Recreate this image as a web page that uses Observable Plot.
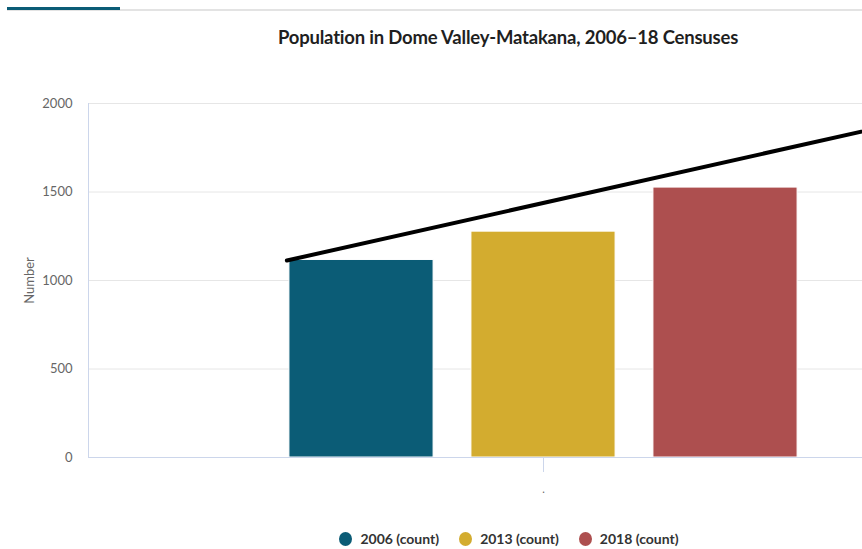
<!DOCTYPE html>
<html>
<head>
<meta charset="utf-8">
<script src="https://cdn.jsdelivr.net/npm/d3@7"></script>
<script src="https://cdn.jsdelivr.net/npm/@observablehq/plot@0.6"></script>
<style>
  html, body { margin: 0; padding: 0; background: #fff; }
  #wrap { position: relative; width: 862px; height: 549px; overflow: hidden; font-family: Lato, "Open Sans", sans-serif; }
  #tabline { position: absolute; left: 7px; top: 9px; width: 855px; height: 2px; background: #e3e3e3; }
  #tab { position: absolute; left: 7px; top: 7px; width: 113px; height: 3px; background: #0b5c76; }
  #title { position: absolute; left: 0; top: 26px; width: 1016px; text-align: center; font-size: 18.5px; font-weight: 700; color: #1f1f1f; letter-spacing: -0.2px; }
  #chart { position: absolute; left: 0; top: 70px; width: 998px; }
  #chart svg { max-width: none !important; }
  #legend { position: absolute; left: 0; top: 530px; width: 1018px; display: flex; justify-content: center; gap: 0; font-size: 14px; font-weight: 700; color: #333; }
  .item { display: flex; align-items: center; margin: 0 10px; }
  .sw { width: 13px; height: 14px; border-radius: 50%; margin-right: 8px; }
</style>
</head>
<body>
<div id="wrap">
  <div id="tabline"></div>
  <div id="tab"></div>
  <div id="title">Population in Dome Valley-Matakana, 2006–18 Censuses</div>
  <div id="chart"></div>
  <div id="legend"></div>
</div>
<script>
// Data
const years = ["2006", "2013", "2018"];
const seriesLabels = ["2006 (count)", "2013 (count)", "2018 (count)"];
const counts = [1116, 1276, 1525];
const colors = ["#0b5c76", "#d3ac2f", "#ad4f4f"];
const yTicks = [0, 500, 1000, 1500, 2000];
const categoryLabel = ".";
// annotation line (x in bar-slot units, y in population)
const trendSlots = [-0.41, 3.5];
const trendValues = [1113, 2015];

const bars = years.map((y, i) => ({ year: y, slot: i, count: counts[i] }));
const trend = trendSlots.map((s, i) => ({ slot: s, value: trendValues[i] }));

const chart = Plot.plot({
  width: 998,
  height: 427,
  marginLeft: 88,
  marginRight: 0,
  marginTop: 33,
  marginBottom: 40,
  style: { fontFamily: "Lato, 'Open Sans', sans-serif", background: "transparent", overflow: "visible", maxWidth: "none" },
  x: { type: "linear", domain: [-1.5, 3.5] },
  y: { domain: [0, 2000] },
  color: { domain: years, range: colors },
  marks: [
    Plot.gridY(yTicks, { stroke: "#e6e6e6", strokeOpacity: 1 }),
    Plot.ruleX([-1.5], { stroke: "#ccd6eb", y1: 0, y2: 2000 }),
    Plot.rectY(bars, {
      x1: d => d.slot - 0.396,
      x2: d => d.slot + 0.396,
      y: "count",
      fill: "year",
      stroke: "#fff",
      strokeWidth: 1
    }),
    Plot.ruleY([0], { stroke: "#ccd6eb" }),
    Plot.axisX([1], {
      tickSize: 15,
      tickPadding: 13,
      stroke: "#ccd6eb",
      tickFormat: () => categoryLabel,
      fontSize: 11,
      color: "#666",
      label: null
    }),
    Plot.axisY(yTicks, {
      tickSize: 0,
      tickPadding: 16,
      tickFormat: d => String(d),
      fontSize: 13,
      color: "#666",
      label: null
    }),
    Plot.text(["Number"], {
      frameAnchor: "left",
      textAnchor: "middle",
      rotate: -90,
      dx: -59,
      fontSize: 13,
      fill: "#666"
    }),
    Plot.line(trend, { x: "slot", y: "value", stroke: "#000", strokeWidth: 4 })
  ]
});
document.getElementById("chart").appendChild(chart);

const legend = document.getElementById("legend");
seriesLabels.forEach((lab, i) => {
  const it = document.createElement("div");
  it.className = "item";
  const sw = document.createElement("span");
  sw.className = "sw";
  sw.style.background = colors[i];
  const t = document.createElement("span");
  t.textContent = lab;
  it.appendChild(sw);
  it.appendChild(t);
  legend.appendChild(it);
});
</script>
</body>
</html>
